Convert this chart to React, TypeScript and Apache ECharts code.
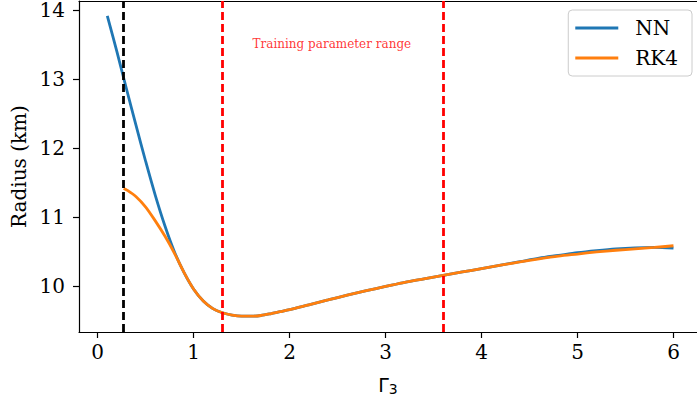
import React, { useEffect, useRef } from "react";
import * as echarts from "echarts";

const gammaNN = [0.1, 0.2, 0.3, 0.4, 0.5, 0.6, 0.7, 0.8, 0.9, 1.0, 1.1, 1.2, 1.3, 1.4, 1.5, 1.6, 1.7, 1.8, 1.9, 2.0, 2.2, 2.4, 2.6, 2.8, 3.0, 3.2, 3.4, 3.6, 3.8, 4.0, 4.2, 4.4, 4.6, 4.8, 5.0, 5.2, 5.4, 5.6, 5.8, 6.0];
const radiusNN = [13.92, 13.4, 12.86, 12.33, 11.81, 11.32, 10.88, 10.5, 10.2, 9.96, 9.79, 9.68, 9.62, 9.585, 9.57, 9.57, 9.58, 9.605, 9.635, 9.665, 9.735, 9.805, 9.875, 9.94, 10.0, 10.06, 10.11, 10.16, 10.21, 10.26, 10.31, 10.36, 10.41, 10.45, 10.49, 10.52, 10.545, 10.56, 10.565, 10.555];

const gammaRK4 = [0.27, 0.3, 0.4, 0.5, 0.6, 0.7, 0.8, 0.9, 1.0, 1.1, 1.2, 1.3, 1.4, 1.5, 1.6, 1.7, 1.8, 1.9, 2.0, 2.2, 2.4, 2.6, 2.8, 3.0, 3.2, 3.4, 3.6, 3.8, 4.0, 4.2, 4.4, 4.6, 4.8, 5.0, 5.2, 5.4, 5.6, 5.8, 6.0];
const radiusRK4 = [11.42, 11.4, 11.3, 11.15, 10.95, 10.73, 10.48, 10.2, 9.96, 9.79, 9.68, 9.62, 9.585, 9.57, 9.57, 9.58, 9.605, 9.635, 9.665, 9.735, 9.805, 9.875, 9.94, 10.0, 10.06, 10.11, 10.16, 10.21, 10.26, 10.31, 10.355, 10.4, 10.44, 10.47, 10.5, 10.525, 10.545, 10.565, 10.59];

const xTicks = [0, 1, 2, 3, 4, 5, 6];
const yTicks = [10, 11, 12, 13, 14];

const stabilityLimit = 0.27;
const trainingRange = [1.3, 3.6];
const annotation = { x: 2.44, y: 13.51, text: "Training parameter range" };

const FONT = "DejaVu Serif";
const X_MIN = -0.195;
const X_MAX = 6.245;

export default function App() {
  const ref = useRef<HTMLDivElement>(null);
  useEffect(() => {
    if (!ref.current) return;
    const chart = echarts.init(ref.current, undefined, { renderer: "svg" });
    const dash = [8, 4];
    const axisLineStyle = { color: "#000", width: 1.2 };
    chart.setOption({
      animation: false,
      backgroundColor: "#fff",
      grid: {
        left: 79,
        top: 1,
        right: 0,
        bottom: 71,
        show: false,
      },
      legend: {
        data: ["NN", "RK4"],
        orient: "vertical",
        right: 5,
        top: 10,
        icon: "rect",
        itemWidth: 43,
        itemHeight: 3,
        itemGap: 10,
        padding: [8, 14, 8, 7],
        borderColor: "#ccc",
        borderWidth: 1,
        borderRadius: 4,
        backgroundColor: "rgba(255,255,255,0.8)",
        textStyle: { fontFamily: FONT, fontSize: 20, color: "#000", padding: [0, 0, 0, 12], lineHeight: 20 },
      },
      xAxis: [
        {
          type: "value",
          min: X_MIN,
          max: X_MAX,
          name: "Γ{sub|3}",
          nameLocation: "middle",
          nameGap: 42,
          nameTextStyle: {
            fontFamily: "DejaVu Sans",
            fontSize: 19,
            color: "#000",
            rich: { sub: { fontFamily: "DejaVu Sans", fontSize: 14, verticalAlign: "bottom", padding: [8, 0, 0, 0] } },
          },
          splitLine: { show: false },
          axisLine: { show: true, onZero: false, lineStyle: axisLineStyle },
          axisTick: { show: true, length: 6, customValues: xTicks, lineStyle: axisLineStyle },
          axisLabel: { customValues: xTicks, margin: 10, fontFamily: FONT, fontSize: 20, color: "#000" },
        },
        {
          type: "value",
          position: "top",
          min: X_MIN,
          max: X_MAX,
          splitLine: { show: false },
          axisLine: { show: true, onZero: false, lineStyle: axisLineStyle },
          axisTick: { show: false },
          axisLabel: { show: false },
        },
      ],
      yAxis: {
        type: "value",
        min: 9.341,
        max: 14.134,
        name: "Radius (km)",
        nameLocation: "middle",
        nameGap: 50,
        nameTextStyle: { fontFamily: FONT, fontSize: 20, color: "#000" },
        splitLine: { show: false },
        axisLine: { show: true, onZero: false, lineStyle: axisLineStyle },
        axisTick: { show: true, length: 6, customValues: yTicks, lineStyle: axisLineStyle },
        axisLabel: { customValues: yTicks, margin: 14, fontFamily: FONT, fontSize: 20, lineHeight: 16, color: "#000" },
      },
      series: [
        {
          name: "guides",
          type: "line",
          data: [],
          silent: true,
          markLine: {
            symbol: "none",
            silent: true,
            label: { show: false },
            data: [
              { xAxis: stabilityLimit, lineStyle: { color: "#000", width: 2.8, type: dash } },
              { xAxis: trainingRange[0], lineStyle: { color: "#ff0000", width: 2.8, type: dash } },
              { xAxis: trainingRange[1], lineStyle: { color: "#ff0000", width: 2.8, type: dash } },
            ],
          },
        },
        {
          name: "NN",
          type: "line",
          data: gammaNN.map((g, i) => [g, radiusNN[i]]),
          showSymbol: false,
          symbol: "none",
          smooth: 0.3,
          color: "#1f77b4",
          lineStyle: { color: "#1f77b4", width: 2.8 },
          z: 3,
        },
        {
          name: "RK4",
          type: "line",
          data: gammaRK4.map((g, i) => [g, radiusRK4[i]]),
          showSymbol: false,
          symbol: "none",
          smooth: 0.3,
          color: "#ff7f0e",
          lineStyle: { color: "#ff7f0e", width: 2.8 },
          z: 4,
        },
        {
          name: "annotation",
          type: "scatter",
          data: [[annotation.x, annotation.y]],
          symbolSize: 0,
          silent: true,
          label: {
            show: true,
            position: "inside",
            formatter: annotation.text,
            fontFamily: FONT,
            fontSize: 12,
            color: "#ff0000",
          },
        },
      ],
    });
    return () => chart.dispose();
  }, []);
  return <div ref={ref} style={{ width: 697, height: 403, position: "absolute", left: 0, top: 0 }} />;
}
